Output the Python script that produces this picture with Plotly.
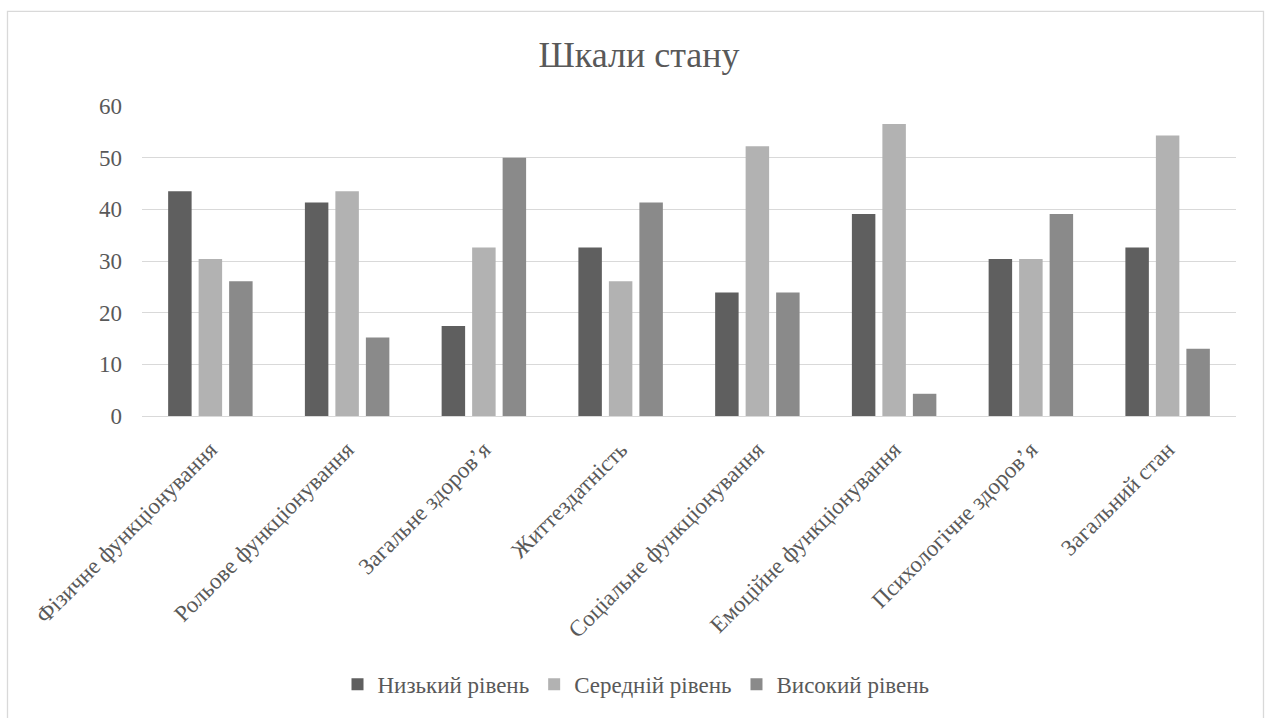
import plotly.graph_objects as go

categories = [
    "Фізичне функціонування",
    "Рольове функціонування",
    "Загальне здоров’я",
    "Життездатність",
    "Соціальне функціонування",
    "Емоційне функціонування",
    "Психологічне здоров’я",
    "Загальний стан",
]
low_level = [43.5, 41.3, 17.4, 32.6, 23.9, 39.1, 30.4, 32.6]
mid_level = [30.4, 43.5, 32.6, 26.1, 52.2, 56.5, 30.4, 54.3]
high_level = [26.1, 15.2, 50.0, 41.3, 23.9, 4.3, 39.1, 13.0]
series_names = ["Низький рівень", "Середній рівень", "Високий рівень"]
series_colors = ["#5f5f5f", "#b2b2b2", "#8a8a8a"]
y_ticks = [0, 10, 20, 30, 40, 50, 60]

FONT = "Liberation Serif"
TXT = "#595959"

fig = go.Figure()
for name, vals, col in zip(series_names, [low_level, mid_level, high_level], series_colors):
    fig.add_trace(go.Bar(x=categories, y=vals, name=name,
                         marker=dict(color=col, line=dict(width=0))))

W, H = 1269, 718
L, R, T, B = 142, 33, 106, 299
pw, ph = W - L - R, H - T - B

def px_x(x):
    return (x - L) / pw

def px_y(y):
    return (H - B - y) / ph

fig.update_layout(
    width=W, height=H,
    margin=dict(l=L, r=R, t=T, b=B),
    paper_bgcolor="white", plot_bgcolor="white",
    font=dict(family=FONT, color=TXT, size=23),
    barmode="group", bargap=0.331, bargroupgap=0.23,
    title=dict(text="Шкали стану", x=639 / W, xref="container", xanchor="center",
               y=1 - 54 / H, yref="container", yanchor="middle",
               font=dict(family=FONT, size=36, color=TXT)),
    legend=dict(orientation="h", x=px_x(636), xanchor="center",
                y=px_y(690), yanchor="middle",
                font=dict(family=FONT, size=23, color=TXT),
                bgcolor="rgba(0,0,0,0)", itemsizing="constant"),
    xaxis=dict(tickangle=-45, showgrid=False, showline=True, linecolor="#d9d9d9",
               linewidth=1.3, ticks="", tickfont=dict(family=FONT, size=23, color=TXT),
               ticklabelstandoff=10),
    yaxis=dict(range=[0, 60], tickvals=y_ticks, showgrid=True, gridcolor="#d9d9d9",
               gridwidth=1.3, zeroline=True, zerolinecolor="#d9d9d9", zerolinewidth=1.3,
               showline=False, ticks="", tickfont=dict(family=FONT, size=23, color=TXT),
               ticklabelstandoff=19),
    shapes=[dict(type="rect", xref="paper", yref="paper",
                 x0=px_x(7.5), x1=px_x(1263.5), y0=px_y(10.5), y1=px_y(740),
                 line=dict(color="#d9d9d9", width=1.3), fillcolor="rgba(0,0,0,0)",
                 layer="below")],
)

fig.write_html("out.html", config={"displayModeBar": False},
               post_script="document.body.style.margin='0';document.body.style.overflow='hidden';")
